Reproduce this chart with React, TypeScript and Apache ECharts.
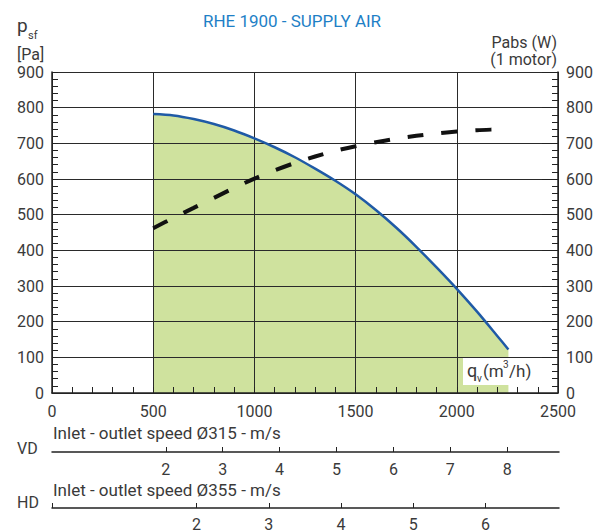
import React, { useEffect, useRef } from "react";
import * as echarts from "echarts";

// Airflow (m3/h) and static pressure (Pa) of the fan curve
const pressureFlow = [500, 600, 700, 800, 900, 1000, 1100, 1200, 1300, 1400, 1500, 1600, 1700, 1800, 1900, 2000, 2100, 2200, 2255];
const pressureValues = [782, 778, 768, 754, 736, 714, 689, 661, 629, 595, 557, 513, 464, 410, 352, 292, 228, 160, 122];

// Absorbed power (W), 1 motor
const powerFlow = [500, 600, 700, 800, 900, 1000, 1100, 1200, 1300, 1400, 1500, 1600, 1700, 1800, 1900, 2000, 2100, 2200, 2250];
const powerValues = [462, 491, 519, 547, 575, 601, 624, 645, 663, 679, 692, 703, 713, 721, 728, 733, 737, 739, 740];

// Secondary speed scales
const vdSpeedLabels = [2, 3, 4, 5, 6, 7, 8];
const hdSpeedLabels = [2, 3, 4, 5, 6];
const hdSpeedTicks = [0, 2, 3, 4, 5, 6];
const vdDiameter = 0.315;
const hdDiameter = 0.355;
const flowMax = 2500;

const FONT = "Roboto";
const TXT = "#3a3a3a";

export default function App() {
  const ref = useRef<HTMLDivElement>(null);
  useEffect(() => {
    if (!ref.current) return;
    const chart = echarts.init(ref.current, undefined, { renderer: "svg" });
    const areaOf = (d: number) => 3600 * Math.PI * d * d / 4;
    const vdMax = flowMax / areaOf(vdDiameter);
    const hdMax = flowMax / areaOf(hdDiameter);
    const pData = pressureFlow.map((q, i) => [q, pressureValues[i]]);
    const wData = powerFlow.map((q, i) => [q, powerValues[i]]);
    const plain = (v: number) => String(v);
    const lbl = { fontSize: 16, color: TXT, fontFamily: FONT, formatter: plain };
    const axisLineStyle = { color: "#222", width: 1.5 };

    chart.setOption({
      animation: false,
      backgroundColor: "#fff",
      grid: [
        { left: 52, top: 72, width: 506, height: 321 },
        { left: 52, top: 451, width: 507, height: 1 },
        { left: 52, top: 507, width: 507, height: 1 },
      ],
      xAxis: [
        {
          gridIndex: 0, type: "value", min: 0, max: flowMax, interval: 500,
          axisLine: { show: true, lineStyle: axisLineStyle },
          axisTick: { show: true, inside: true, length: 6, lineStyle: { color: "#222" } },
          minorTick: { show: true, splitNumber: 5, length: 6, lineStyle: { color: "#222", width: 1 } },
          splitLine: { show: true, lineStyle: { color: "#2a2a2a", width: 1 } },
          axisLabel: { ...lbl, margin: 10 },
        },
        {
          gridIndex: 1, type: "value", min: 0, max: vdMax, position: "bottom",
          axisLine: { show: true, lineStyle: axisLineStyle },
          axisTick: { show: true, inside: true, length: 5, customValues: vdSpeedLabels, lineStyle: { color: "#222" } },
          axisLabel: { ...lbl, margin: 9, customValues: vdSpeedLabels },
          splitLine: { show: false },
        },
        {
          gridIndex: 2, type: "value", min: 0, max: hdMax, position: "bottom",
          axisLine: { show: true, lineStyle: axisLineStyle },
          axisTick: { show: true, inside: true, length: 5, customValues: hdSpeedTicks, lineStyle: { color: "#222" } },
          axisLabel: { ...lbl, margin: 8, customValues: hdSpeedLabels },
          splitLine: { show: false },
        },
      ],
      yAxis: [
        {
          gridIndex: 0, type: "value", min: 0, max: 900, interval: 100, position: "left",
          axisLine: { show: true, lineStyle: axisLineStyle },
          axisTick: { show: true, inside: true, length: 6, lineStyle: { color: "#222" } },
          minorTick: { show: true, splitNumber: 5, length: 6, lineStyle: { color: "#222", width: 1 } },
          splitLine: { show: true, lineStyle: { color: "#2a2a2a", width: 1 } },
          axisLabel: { ...lbl, margin: 8 },
        },
        {
          gridIndex: 0, type: "value", min: 0, max: 900, interval: 100, position: "right",
          axisLine: { show: true, lineStyle: axisLineStyle },
          axisTick: { show: true, inside: true, length: 16, lineStyle: { color: "#222" } },
          minorTick: { show: true, splitNumber: 5, length: 6, lineStyle: { color: "#222", width: 1 } },
          splitLine: { show: false },
          axisLabel: { ...lbl, margin: 8 },
        },
        { gridIndex: 1, type: "value", show: false },
        { gridIndex: 2, type: "value", show: false },
      ],
      series: [
        {
          type: "line", xAxisIndex: 0, yAxisIndex: 0, data: pData, z: -1,
          showSymbol: false, smooth: 0.3, silent: true,
          lineStyle: { width: 0 },
          areaStyle: { color: "#cfe29e", opacity: 1 },
        },
        {
          type: "line", xAxisIndex: 0, yAxisIndex: 0, data: pData, z: 3,
          showSymbol: false, smooth: 0.3,
          lineStyle: { color: "#1f5aa6", width: 2.5 },
        },
        {
          type: "line", xAxisIndex: 0, yAxisIndex: 1, data: wData, z: 4,
          showSymbol: false, smooth: 0.3,
          lineStyle: { color: "#111", width: 4, type: [16, 18], cap: "butt" },
        },
      ],
      graphic: [
        { type: "text", z: 100, style: { text: "RHE 1900 - SUPPLY AIR", x: 292, y: 21, fill: "#1e7fc6", fontSize: 17, fontFamily: FONT, align: "center", textAlign: "center", verticalAlign: "middle", textVerticalAlign: "middle" } },
        { type: "text", z: 100, style: { text: "p", x: 17, y: 25.5, fill: TXT, fontSize: 19, fontFamily: FONT, verticalAlign: "middle", textVerticalAlign: "middle" } },
        { type: "text", z: 100, style: { text: "sf", x: 28, y: 35, fill: TXT, fontSize: 11, fontFamily: FONT, verticalAlign: "middle", textVerticalAlign: "middle" } },
        { type: "text", z: 100, style: { text: "[Pa]", x: 17, y: 54, fill: TXT, fontSize: 16, fontFamily: FONT, verticalAlign: "middle", textVerticalAlign: "middle" } },
        { type: "text", z: 100, style: { text: "Pabs (W)", x: 557, y: 42, fill: TXT, fontSize: 16, fontFamily: FONT, align: "right", textAlign: "right", verticalAlign: "middle", textVerticalAlign: "middle" } },
        { type: "text", z: 100, style: { text: "(1 motor)", x: 557, y: 59.5, fill: TXT, fontSize: 16, fontFamily: FONT, align: "right", textAlign: "right", verticalAlign: "middle", textVerticalAlign: "middle" } },
        { type: "rect", z: 99, shape: { x: 463, y: 358, width: 80, height: 27 }, style: { fill: "#fff" } },
        { type: "text", z: 100, style: { text: "q", x: 467, y: 370, fill: TXT, fontSize: 18, fontFamily: FONT, verticalAlign: "middle", textVerticalAlign: "middle" } },
        { type: "text", z: 100, style: { text: "v", x: 477, y: 378, fill: TXT, fontSize: 10, fontFamily: FONT, verticalAlign: "middle", textVerticalAlign: "middle" } },
        { type: "text", z: 100, style: { text: "(m", x: 483, y: 371, fill: TXT, fontSize: 17, fontFamily: FONT, verticalAlign: "middle", textVerticalAlign: "middle" } },
        { type: "text", z: 100, style: { text: "3", x: 503, y: 364, fill: TXT, fontSize: 10, fontFamily: FONT, verticalAlign: "middle", textVerticalAlign: "middle" } },
        { type: "text", z: 100, style: { text: "/h)", x: 509, y: 371, fill: TXT, fontSize: 17, fontFamily: FONT, verticalAlign: "middle", textVerticalAlign: "middle" } },
        { type: "text", z: 100, style: { text: "VD", x: 17, y: 448, fill: TXT, fontSize: 16, fontFamily: FONT, verticalAlign: "middle", textVerticalAlign: "middle" } },
        { type: "text", z: 100, style: { text: "Inlet - outlet speed Ø315 - m/s", x: 53, y: 433, fill: TXT, fontSize: 17, fontFamily: FONT, verticalAlign: "middle", textVerticalAlign: "middle" } },
        { type: "text", z: 100, style: { text: "HD", x: 17, y: 502, fill: TXT, fontSize: 16, fontFamily: FONT, verticalAlign: "middle", textVerticalAlign: "middle" } },
        { type: "text", z: 100, style: { text: "Inlet - outlet speed Ø355 - m/s", x: 53, y: 490, fill: TXT, fontSize: 17, fontFamily: FONT, verticalAlign: "middle", textVerticalAlign: "middle" } },
      ],
    });
    return () => chart.dispose();
  }, []);
  return <div ref={ref} style={{ position: "absolute", left: 0, top: 0, width: 607, height: 532 }} />;
}
